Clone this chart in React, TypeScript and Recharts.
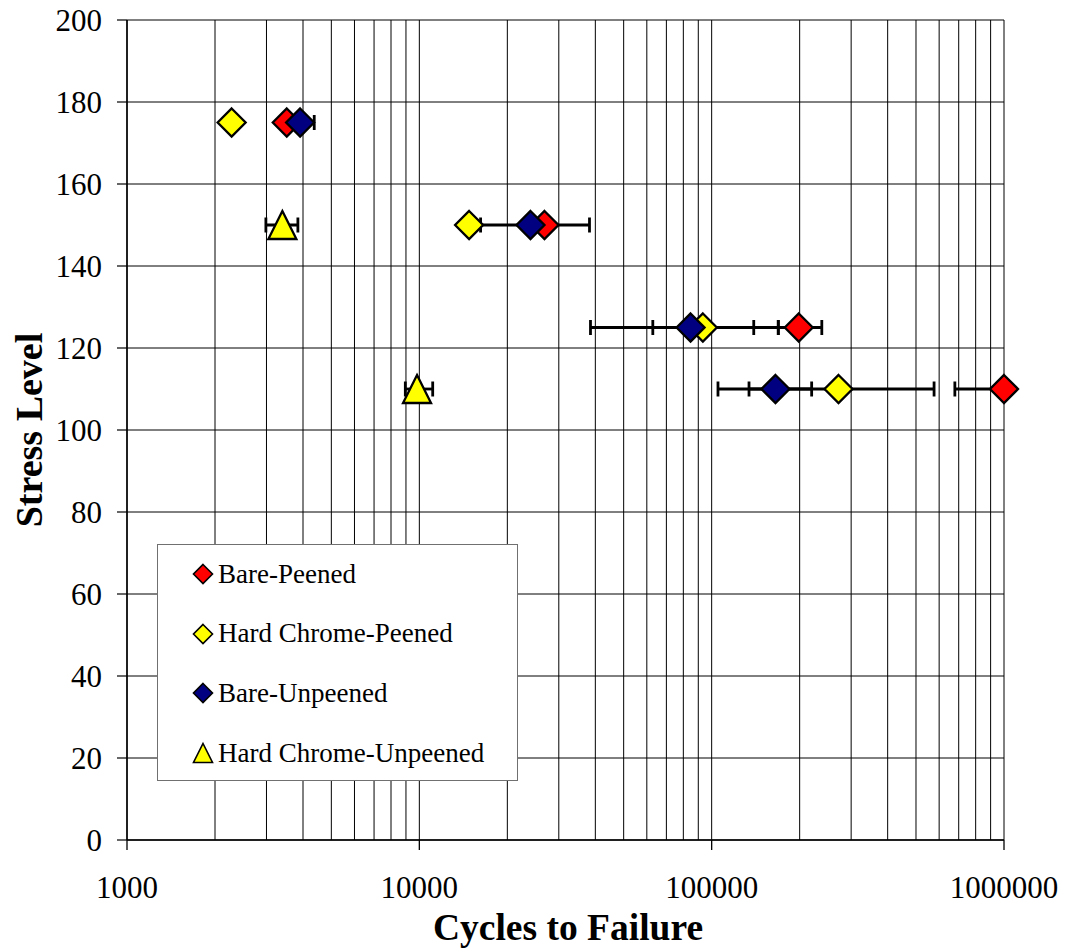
import { ScatterChart, Scatter, XAxis, YAxis, CartesianGrid, ErrorBar, Legend, Label } from 'recharts';

// values (cycles on a log axis)
const barePeenedCycles = [3520, 26800, 198600, 1000000];
const barePeenedStress = [175, 150, 125, 110];
const barePeenedErr = [[0, 0], [11400, 11400], [29600, 39500], [321000, 0]];

const chromePeenedCycles = [2280, 14800, 93300, 271600];
const chromePeenedStress = [175, 150, 125, 110];
const chromePeenedErr = [[0, 0], [0, 1400], [30400, 75700], [137400, 304900]];

const bareUnpeenedCycles = [3910, 24000, 84700, 165300];
const bareUnpeenedStress = [175, 150, 125, 110];
const bareUnpeenedErr = [[0, 460], [0, 0], [46200, 54600], [60200, 54500]];

const chromeUnpeenedCycles = [3400, 9820];
const chromeUnpeenedStress = [150, 110];
const chromeUnpeenedErr = [[414, 442], [865, 1290]];

const xTicks = [
  1000, 2000, 3000, 4000, 5000, 6000, 7000, 8000, 9000,
  10000, 20000, 30000, 40000, 50000, 60000, 70000, 80000, 90000,
  100000, 200000, 300000, 400000, 500000, 600000, 700000, 800000, 900000,
  1000000,
];
const xLabels = [1000, 10000, 100000, 1000000];
const yTicks = [0, 20, 40, 60, 80, 100, 120, 140, 160, 180, 200];

const FONT = "'Liberation Serif', 'Times New Roman', serif";

const toRows = (xs: number[], ys: number[], errs: number[][]) =>
  xs.map((x, i) => ({ x, y: ys[i], err: errs[i] }));

const series = [
  { name: 'Bare-Peened', color: '#FF0000', shape: 'diamond', data: toRows(barePeenedCycles, barePeenedStress, barePeenedErr) },
  { name: 'Hard Chrome-Peened', color: '#FFFF00', shape: 'diamond', data: toRows(chromePeenedCycles, chromePeenedStress, chromePeenedErr) },
  { name: 'Bare-Unpeened', color: '#000080', shape: 'diamond', data: toRows(bareUnpeenedCycles, bareUnpeenedStress, bareUnpeenedErr) },
  { name: 'Hard Chrome-Unpeened', color: '#FFFF00', shape: 'triangle', data: toRows(chromeUnpeenedCycles, chromeUnpeenedStress, chromeUnpeenedErr) },
];

function markerPath(shape: string, cx: number, cy: number, r: number) {
  if (shape === 'triangle') {
    return `M${cx},${cy - r} L${cx + r},${cy + r} L${cx - r},${cy + r} Z`;
  }
  return `M${cx},${cy - r} L${cx + r},${cy} L${cx},${cy + r} L${cx - r},${cy} Z`;
}

const makeShape = (shape: string, color: string) => (props: any) => {
  const { cx, cy } = props;
  if (cx == null || cy == null) return <g />;
  return <path d={markerPath(shape, cx, cy, 14)} fill={color} stroke="#000" strokeWidth={2.3} strokeLinejoin="miter" />;
};

const XTick = (props: any) => {
  const { x, y, payload } = props;
  if (!xLabels.includes(payload.value)) return <g />;
  return (
    <g>
      <line x1={x} y1={y - 10} x2={x} y2={y} stroke="#000" strokeWidth={1.3} />
      <text x={x} y={y + 48} textAnchor="middle" fontFamily={FONT} fontSize={31} fill="#000">
        {payload.value}
      </text>
    </g>
  );
};

const LegendBox = () => (
  <div
    style={{
      width: 359,
      height: 235,
      border: '1px solid #707070',
      background: '#fff',
      fontFamily: FONT,
      fontSize: 27,
      color: '#000',
      boxSizing: 'content-box',
    }}
  >
    {series.map((s, i) => (
      <div
        key={s.name}
        style={{ position: 'absolute', left: 34, top: 30 + i * 59.7 - 20, height: 40, display: 'flex', alignItems: 'center', whiteSpace: 'nowrap' }}
      >
        <svg width={24} height={24} style={{ marginRight: 3 }}>
          <path d={markerPath(s.shape, 12, 12, 9.5)} fill={s.color} stroke="#000" strokeWidth={1.6} />
        </svg>
        <span>{s.name}</span>
      </div>
    ))}
  </div>
);

export default function App() {
  return (
    <div style={{ position: 'absolute', left: 0, top: 0, width: 1066, height: 951, background: '#fff' }}>
      <ScatterChart width={1066} height={951} margin={{ top: 20, right: 62, bottom: 0, left: 0 }}>
        <CartesianGrid stroke="#000" strokeWidth={1} horizontal vertical />
        <XAxis
          type="number"
          dataKey="x"
          scale="log"
          domain={[1000, 1000000]}
          ticks={xTicks}
          interval={0}
          height={111}
          tickSize={10}
          tickMargin={0}
          tickLine={false}
          axisLine={{ stroke: '#000', strokeWidth: 1.5 }}
          tick={<XTick />}
        >
          <Label
            content={() => (
              <text x={568} y={940} textAnchor="middle" fontFamily={FONT} fontSize={37.5} fontWeight="bold" fill="#000">
                Cycles to Failure
              </text>
            )}
          />
        </XAxis>
        <YAxis
          type="number"
          dataKey="y"
          domain={[0, 200]}
          ticks={yTicks}
          interval={0}
          width={127}
          tickSize={10}
          tickMargin={15}
          axisLine={{ stroke: '#000', strokeWidth: 1.5 }}
          tickLine={{ stroke: '#000', strokeWidth: 1.2 }}
          tick={{ fill: '#000', fontFamily: FONT, fontSize: 31 }}
        >
          <Label
            content={() => (
              <text
                x={42}
                y={430}
                transform="rotate(-90, 42, 430)"
                textAnchor="middle"
                fontFamily={FONT}
                fontSize={38}
                fontWeight="bold"
                fill="#000"
              >
                Stress Level
              </text>
            )}
          />
        </YAxis>
        <Legend
          content={<LegendBox />}
          layout="vertical"
          align="center"
          verticalAlign="middle"
          wrapperStyle={{ left: 157, top: 544, width: 361, height: 237 }}
        />
        {series.map((s) => (
          <Scatter key={`err-${s.name}`} name={`err-${s.name}`} data={s.data} legendType="none" shape={() => <g />} isAnimationActive={false}>
            <ErrorBar dataKey="err" direction="x" width={7.5} stroke="#000" strokeWidth={2.8} />
          </Scatter>
        ))}
        {series.map((s) => (
          <Scatter key={s.name} name={s.name} data={s.data} fill={s.color} shape={makeShape(s.shape, s.color)} isAnimationActive={false} />
        ))}
      </ScatterChart>
    </div>
  );
}
